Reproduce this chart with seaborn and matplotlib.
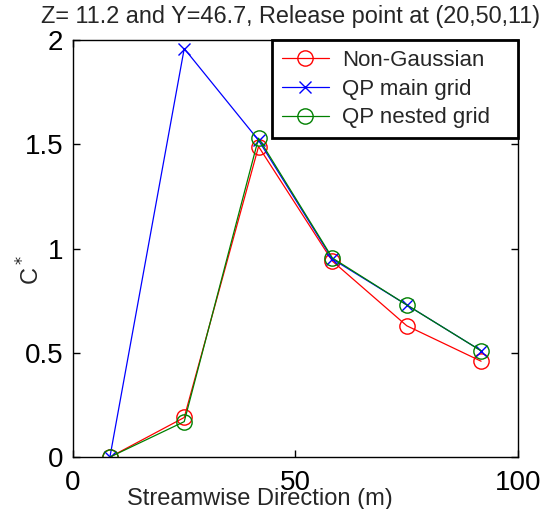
import matplotlib
matplotlib.use("Agg")
import matplotlib.pyplot as plt
import seaborn as sns
import pandas as pd

# Downstream sampling positions (m) and normalised concentration C*
distance = [8.3, 25.0, 41.7, 58.3, 75.0, 91.7]
non_gaussian = [0.0, 0.19, 1.49, 0.94, 0.63, 0.46]
qp_main_grid = [0.0, 1.96, 1.52, 0.95, 0.73, 0.51]
qp_nested_grid = [0.0, 0.17, 1.53, 0.955, 0.73, 0.51]

series_names = ["Non-Gaussian", "QP main grid", "QP nested grid"]
x_ticks = [0, 50, 100]
y_ticks = [0, 0.5, 1, 1.5, 2]
y_tick_labels = ["0", "0.5", "1", "1.5", "2"]

sns.set_style("ticks")
plt.rcParams["font.family"] = ["Liberation Sans", "DejaVu Sans"]

df = pd.DataFrame({
    "x": distance * 3,
    "c": non_gaussian + qp_main_grid + qp_nested_grid,
    "series": [series_names[0]] * 6 + [series_names[1]] * 6 + [series_names[2]] * 6,
})

fig = plt.figure(figsize=(5.57, 5.09), dpi=100)
ax = fig.add_axes([0.131, 0.102, 0.799, 0.819])

styles = {
    "Non-Gaussian": dict(color="#ff0000", marker="o", markersize=11,
                         markerfacecolor="none", markeredgecolor="#ff0000"),
    "QP main grid": dict(color="#0000ff", marker="x", markersize=8,
                         markeredgecolor="#0000ff"),
    "QP nested grid": dict(color="#008000", marker="o", markersize=11,
                           markerfacecolor="none", markeredgecolor="#008000"),
}
for name in series_names:
    sub = df[df["series"] == name]
    st = styles[name]
    sns.lineplot(data=sub, x="x", y="c", ax=ax, label=name, linewidth=0.9,
                 markeredgewidth=1.0, sort=False, **st)

ax.set_xlim(0, 100)
ax.set_ylim(0, 2)
ax.set_xticks(x_ticks)
ax.set_yticks(y_ticks)
ax.set_yticklabels(y_tick_labels)
ax.tick_params(direction="in", top=True, right=True, length=5, width=1,
               labelsize=20, colors="black")
ax.tick_params(axis="x", pad=9)
ax.tick_params(axis="y", pad=7)
for sp in ax.spines.values():
    sp.set_visible(True)
    sp.set_color("black")
    sp.set_linewidth(1.0)

ax.set_xlabel("Streamwise Direction (m)", fontsize=17, va="center")
ax.xaxis.set_label_coords(0.42, -0.1)
ax.set_ylabel(r"C$^*$", fontsize=17, va="center")
ax.yaxis.set_label_coords(-0.095, 0.45)

fig.text(291 / 557, 1 - 17 / 509, "Z= 11.2 and Y=46.7, Release point at (20,50,11)",
         ha="center", va="center", fontsize=16.9)

leg = ax.legend(loc="upper right", bbox_to_anchor=(0.447, 0.0, 0.553, 1.0),
                mode="expand", fontsize=16,
                frameon=True, fancybox=False, framealpha=1, edgecolor="black",
                borderaxespad=0, handlelength=2.1, handletextpad=0.6,
                labelspacing=0.34, borderpad=0.45)
leg.get_frame().set_linewidth(2.0)

fig.savefig("out.png", dpi=100, facecolor="white")
